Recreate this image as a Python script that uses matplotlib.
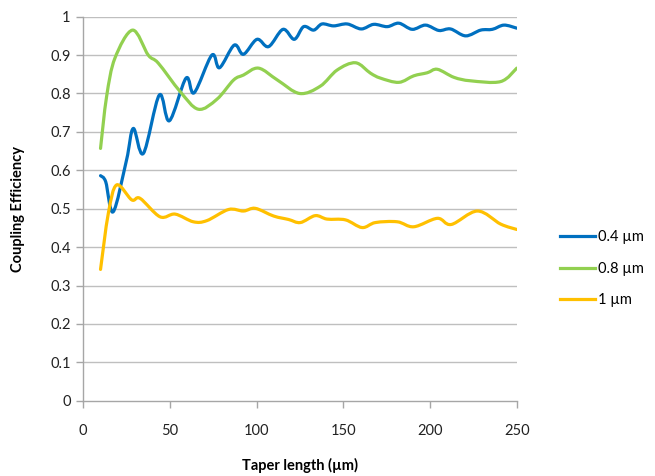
import matplotlib
matplotlib.use("Agg")
import matplotlib.pyplot as plt
from matplotlib.path import Path
from matplotlib.patches import PathPatch
from matplotlib.lines import Line2D
import numpy as np

plt.rcParams['font.family'] = ['Lato', 'DejaVu Sans']

# ---- data ----
x_04 = [10, 13, 17.3, 25, 28.9, 34.7, 43.9, 49.7, 59.3, 64, 74.2, 78.6, 87.1, 92.4, 100.2, 106.9,
        115.2, 121.7, 127.1, 132.9, 137.7, 144.4, 152.2, 160.3, 167.5, 175.3, 182, 189.7,
        197.4, 205.1, 211.8, 220.5, 229.2, 235.9, 242.6, 250]
y_04 = [0.586, 0.570, 0.492, 0.627, 0.709, 0.644, 0.796, 0.729, 0.840, 0.802, 0.900, 0.867, 0.926,
        0.902, 0.941, 0.922, 0.967, 0.941, 0.974, 0.965, 0.981, 0.976, 0.981, 0.968, 0.980, 0.974,
        0.983, 0.967, 0.978, 0.964, 0.968, 0.950, 0.965, 0.967, 0.978, 0.970]

x_08 = [10, 13.5, 18.3, 28.5, 37.5, 43.3, 55.9, 66.4, 77.1, 86.7, 92.4, 101.1, 112, 124.8,
        136.7, 146.4, 157, 165.6, 171.4, 182, 190.6, 198.4, 204.2, 213.8, 223.4, 240.7, 250]
y_08 = [0.657, 0.792, 0.892, 0.965, 0.900, 0.879, 0.805, 0.759, 0.785, 0.835, 0.848, 0.866, 0.835,
        0.800, 0.819, 0.861, 0.880, 0.853, 0.840, 0.829, 0.846, 0.854, 0.863, 0.842, 0.833, 0.831,
        0.866]

x_1 = [10, 14.5, 19.3, 28, 32.8, 44.3, 53, 63.5, 71.3, 83.8, 92.4, 99.2, 109.8, 118.4, 125.2,
       133.8, 140.6, 151.2, 160.8, 168.5, 181.1, 190.6, 204.2, 212.2, 227.3, 240.7, 250]
y_1 = [0.342, 0.488, 0.562, 0.523, 0.527, 0.479, 0.486, 0.466, 0.469, 0.498, 0.494, 0.501, 0.481,
       0.472, 0.464, 0.482, 0.473, 0.471, 0.451, 0.464, 0.466, 0.453, 0.475, 0.459, 0.494, 0.460,
       0.446]

labels = ['0.4 µm', '0.8 µm', '1 µm']
colors = ['#0070C0', '#92D050', '#FFC000']
x_ticks = [0, 50, 100, 150, 200, 250]
y_ticks = [0, 0.1, 0.2, 0.3, 0.4, 0.5, 0.6, 0.7, 0.8, 0.9, 1]
y_ticklabels = ['0', '0.1', '0.2', '0.3', '0.4', '0.5', '0.6', '0.7', '0.8', '0.9', '1']


def smooth_path(xs, ys):
    """Excel-like smoothed line: cubic Bezier segments through the data points."""
    P = np.column_stack([xs, ys]).astype(float)
    n = len(P)
    verts = [P[0]]
    codes = [Path.MOVETO]
    for i in range(n - 1):
        p0 = P[i - 1] if i > 0 else P[i]
        p1 = P[i]
        p2 = P[i + 1]
        p3 = P[i + 2] if i + 2 < n else P[i + 1]
        c1 = p1 + (p2 - p0) / 6.0
        c2 = p2 - (p3 - p1) / 6.0
        verts += [c1, c2, p2]
        codes += [Path.CURVE4] * 3
    return Path(verts, codes)


fig = plt.figure(figsize=(6.55, 4.76), dpi=100)
ax = fig.add_axes([0.127, 0.158, 0.662, 0.807])

grid_c = '#BFBFBF'
for yt in y_ticks[1:]:
    ax.axhline(yt, color=grid_c, lw=1.0, zorder=1)

series = [(x_04, y_04), (x_08, y_08), (x_1, y_1)]
handles = []
for (xs, ys), c, lab in zip(series, colors, labels):
    patch = PathPatch(smooth_path(xs, ys), facecolor='none', edgecolor=c, lw=2.3,
                      capstyle='round', joinstyle='round', zorder=3)
    ax.add_patch(patch)
    handles.append(Line2D([0], [0], color=c, lw=2.3, label=lab))

ax.set_xlim(0, 250)
ax.set_ylim(0, 1)
ax.set_xticks(x_ticks)
ax.set_yticks(y_ticks)
ax.set_yticklabels(y_ticklabels)

for s in ['top', 'right']:
    ax.spines[s].set_visible(False)
for s in ['left', 'bottom']:
    ax.spines[s].set_color('#A6A6A6')
    ax.spines[s].set_linewidth(1.0)

ax.tick_params(axis='both', direction='out', length=5, width=1.0, color='#A6A6A6',
               labelsize=10.5, labelcolor='#222222')
ax.tick_params(axis='x', pad=12)
ax.tick_params(axis='y', pad=4)

ax.set_xlabel('Taper length (µm)', fontsize=10.5, fontweight='bold', labelpad=14)
ax.set_ylabel('Coupling Efficiency', fontsize=10.5, fontweight='bold', labelpad=18)

fig.legend(handles=handles, loc='center left', bbox_to_anchor=(0.835, 0.435),
           frameon=False, fontsize=10.5, handlelength=2.4, handletextpad=0.2,
           labelspacing=1.2)

fig.savefig('out.png', dpi=100)
